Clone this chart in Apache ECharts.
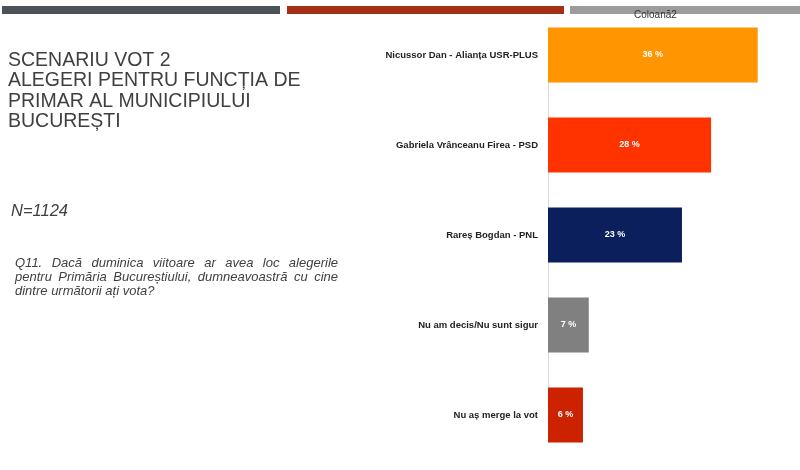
<!DOCTYPE html>
<html>
<head>
<meta charset="utf-8">
<script src="https://cdn.jsdelivr.net/npm/echarts@6/dist/echarts.min.js"></script>
<style>html,body{margin:0;padding:0;background:#fff;}#c{width:800px;height:470px;}</style>
</head>
<body>
<div id="c"></div>
<script>
const categories = ["Nicussor Dan - Alianța USR-PLUS", "Gabriela Vrânceanu Firea - PSD", "Rareș Bogdan - PNL", "Nu am decis/Nu sunt sigur", "Nu aș merge la vot"];
const values = [36, 28, 23, 7, 6];
const barColors = ["#FF9500", "#FF3300", "#0B1F5C", "#808080", "#CC2200"];
const seriesName = "Coloană2";
const titleLines = ["SCENARIU VOT 2", "ALEGERI PENTRU FUNCȚIA DE", "PRIMAR AL MUNICIPIULUI", "BUCUREȘTI"];
const sampleText = "N=1124";
const questionLines = ["Q11. Dacă duminica viitoare ar avea loc alegerile", "pentru Primăria Bucureștiului, dumneavoastră cu cine", "dintre următorii ați vota?"];

const FONT = "Liberation Sans, Arial, sans-serif";
const chart = echarts.init(document.getElementById('c'), null, {renderer: 'canvas'});

const ctx = document.createElement('canvas').getContext('2d');
function justifyLine(text, x0, x1, y, font, style) {
  ctx.font = font;
  const words = text.split(' ');
  const wsum = words.reduce((s, w) => s + ctx.measureText(w).width, 0);
  const gap = Math.max(2, (x1 - x0 - wsum) / (words.length - 1));
  const out = [];
  let x = x0;
  words.forEach(w => {
    out.push({type: 'text', left: x, top: y, style: Object.assign({text: w}, style)});
    x += ctx.measureText(w).width + gap;
  });
  return out;
}

const graphics = [
  {type: 'rect', shape: {x: 2, y: 6, width: 278, height: 8}, style: {fill: '#4B5357'}},
  {type: 'rect', shape: {x: 287, y: 6, width: 277, height: 8}, style: {fill: '#A33016'}},
  {type: 'rect', shape: {x: 570, y: 6, width: 230, height: 8}, style: {fill: '#9C9C9C'}},
  {type: 'text', left: 8, top: 50, style: {text: titleLines.join('\n'), font: '19.5px ' + FONT, fill: '#404040', lineHeight: 20.6}},
  {type: 'text', left: 11, top: 203, style: {text: sampleText, font: 'italic 16.5px ' + FONT, fill: '#404040'}}
];
const qStyle = {font: 'italic 13px ' + FONT, fill: '#404040'};
graphics.push(...justifyLine(questionLines[0], 15, 338, 257, 'italic 13px Liberation Sans', qStyle));
graphics.push(...justifyLine(questionLines[1], 15, 338, 271, 'italic 13px Liberation Sans', qStyle));
graphics.push({type: 'text', left: 15, top: 285, style: Object.assign({text: questionLines[2]}, qStyle)});

const option = {
  animation: false,
  backgroundColor: '#fff',
  legend: {
    data: [seriesName], left: 624, top: 3, icon: 'none', itemWidth: 0, itemGap: 0,
    textStyle: {fontFamily: FONT, fontSize: 10, color: '#333'}, selectedMode: false
  },
  grid: {left: 548, right: 19, top: 10, bottom: 10},
  xAxis: {type: 'value', min: 0, max: 40, show: false},
  yAxis: {
    type: 'category', data: categories, inverse: true,
    axisLine: {show: false}, axisTick: {show: false},
    axisLabel: {fontFamily: FONT, fontSize: 9.5, fontWeight: 'bold', color: '#222', margin: 10}
  },
  series: [{
    name: seriesName, type: 'bar', barWidth: 55,
    data: values.map((v, i) => ({value: v, itemStyle: {color: barColors[i]}})),
    label: {show: true, position: 'inside', formatter: '{c} %', color: '#fff', fontFamily: FONT, fontSize: 9, fontWeight: 'bold'}
  }],
  graphic: graphics
};
chart.setOption(option);

const x0 = chart.convertToPixel({xAxisIndex: 0}, 0);
const yTop = chart.convertToPixel({yAxisIndex: 0}, categories[0]) - 27.5;
const yBot = chart.convertToPixel({yAxisIndex: 0}, categories[categories.length - 1]) + 27.5;
chart.setOption({graphic: graphics.concat([{type: 'line', z: -1, shape: {x1: x0 + 0.5, y1: yTop, x2: x0 + 0.5, y2: yBot}, style: {stroke: '#D9D9D9', lineWidth: 1}}])});
</script>
</body>
</html>
